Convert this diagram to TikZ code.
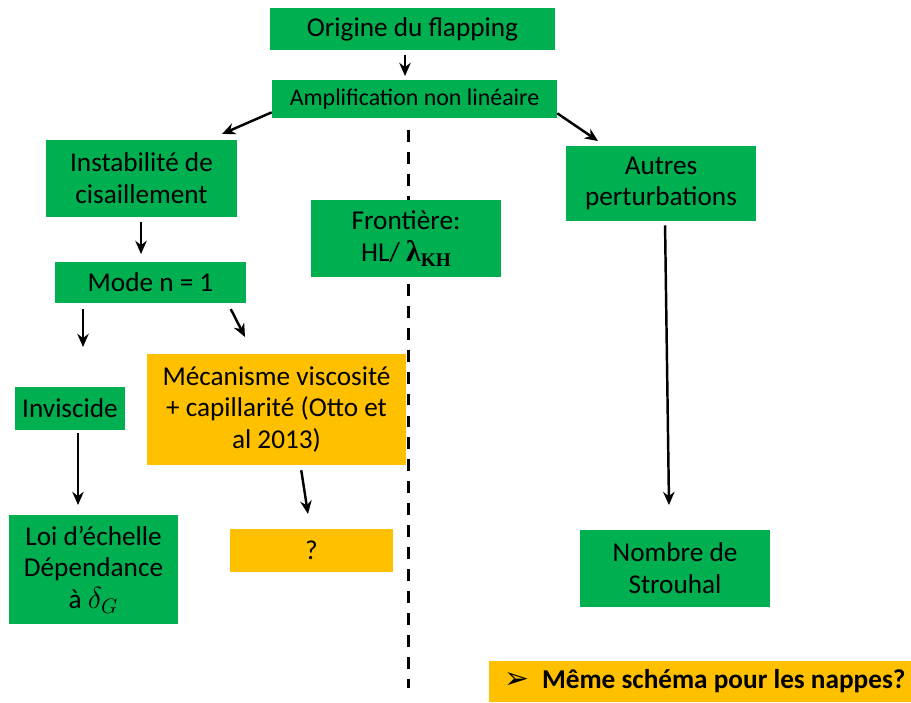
\documentclass[tikz,border=0pt]{standalone}
\usepackage{fontspec}
\setmainfont{Carlito}
\newfontfamily\serifbf{Liberation Serif}
\newfontfamily\symfont{DejaVu Sans}
\usepackage{xcolor}
\definecolor{boxgreen}{RGB}{0,176,80}
\definecolor{boxorange}{RGB}{255,192,0}
\usetikzlibrary{arrows.meta}

\tikzset{
  gbox/.style={fill=boxgreen, inner sep=0pt, align=center,
    font=\fontsize{15.5}{18.1}\selectfont},
  obox/.style={gbox, fill=boxorange},
  arr/.style={-{Stealth[length=7.5pt,width=6.5pt]}, line width=1.4pt},
}

\begin{document}
\begin{tikzpicture}[x=0.02cm, y=-0.02cm]
  \useasboundingbox (0,0) rectangle (911,702);

  % Separation line
  \coordinate (sep-top) at (408,130);
  \coordinate (sep-bot) at (408,688);
  \draw[line width=1.7pt, dash pattern=on 6.8pt off 5.7pt] (sep-top) -- (sep-bot);

  % --- Top ---
  \node[gbox, minimum width=5.70cm, minimum height=0.84cm] (orig) at (412.5,29) {Origine du flapping};
  \node[gbox, minimum width=5.70cm, minimum height=0.76cm,
        font=\fontsize{13.6}{16}\selectfont] (ampl) at (414.5,99) {Amplification non linéaire};

  % --- Left branch ---
  \node[gbox, minimum width=3.82cm, minimum height=1.54cm] (inst) at (141.5,178.5) {Instabilité de\\cisaillement};
  \node[gbox, minimum width=3.82cm, minimum height=0.82cm] (mode) at (150.5,282.5) {Mode n = 1};
  \node[gbox, minimum width=2.20cm, minimum height=0.86cm] (invisc) at (70,408.5) {Inviscide};
  \node[obox, minimum width=5.18cm, minimum height=2.22cm] (meca) at (276.5,409.5) {Mécanisme viscosité\\+ capillarité (Otto et\\al 2013)};
  \node[gbox, minimum width=3.38cm, minimum height=2.18cm] (loi) at (93.5,569.5)
    {Loi d’échelle\\Dépendance\\à {\fontsize{17.5}{18.1}\selectfont$\delta_G$}};
  \node[obox, minimum width=3.26cm, minimum height=0.86cm] (quest) at (311.5,550.5) {?};

  % --- Middle ---
  \node[gbox, minimum width=3.80cm, minimum height=1.54cm] (front) at (406,238.5)
    {Frontière:\\HL/ {\serifbf\bfseries\fontsize{17}{18}\selectfont λ\raisebox{-0.4ex}{\fontsize{11}{12}\selectfont KH}}};

  % --- Right branch ---
  \node[gbox, minimum width=3.80cm, minimum height=1.50cm] (autres) at (661,183.5) {Autres\\perturbations};
  \node[gbox, minimum width=3.80cm, minimum height=1.54cm] (nomb) at (675,568.5) {Nombre de\\Strouhal};

  % Question
  \node[obox, minimum width=8.44cm, minimum height=0.82cm,
        font=\fontsize{15.5}{18.1}\selectfont\bfseries] (meme) at (700,681.5)
    {\hspace*{0.2cm}{\symfont\mdseries\fontsize{17}{18}\selectfont ➢}\hspace{0.25cm}Même schéma pour les nappes?};

  % Arrow tips
  \coordinate (t-ampl) at (405,76);
  \coordinate (t-inst) at (222,134);
  \coordinate (t-autres) at (598,141);
  \coordinate (t-mode) at (141,254);
  \coordinate (t-invisc) at (83,347);
  \coordinate (t-meca) at (245,337);
  \coordinate (t-loi) at (78,505);
  \coordinate (t-quest) at (308,514);
  \coordinate (t-nomb) at (669,505);

  % Arrows
  \draw[arr, shorten <=0.1cm] (orig.south -| t-ampl) -- (t-ampl);
  \draw[arr] ([yshift=0.12cm]ampl.south west) -- (t-inst);
  \draw[arr] ([yshift=0.1cm]ampl.south east) -- (t-autres);
  \draw[arr, shorten <=0.1cm] (inst.south -| t-mode) -- (t-mode);
  \draw[arr, shorten <=0.12cm] (mode.south -| t-invisc) -- (t-invisc);
  \draw[arr, shorten <=0.13cm] ([xshift=-0.37cm]mode.south east) -- (t-meca);
  \draw[arr, shorten <=0.06cm] (invisc.south -| t-loi) -- (t-loi);
  \draw[arr, shorten <=0.1cm] ([xshift=0.48cm]meca.south) -- (t-quest);
  \draw[arr, shorten <=0.08cm] ([xshift=0.08cm]autres.south) -- (t-nomb);
\end{tikzpicture}
\end{document}
